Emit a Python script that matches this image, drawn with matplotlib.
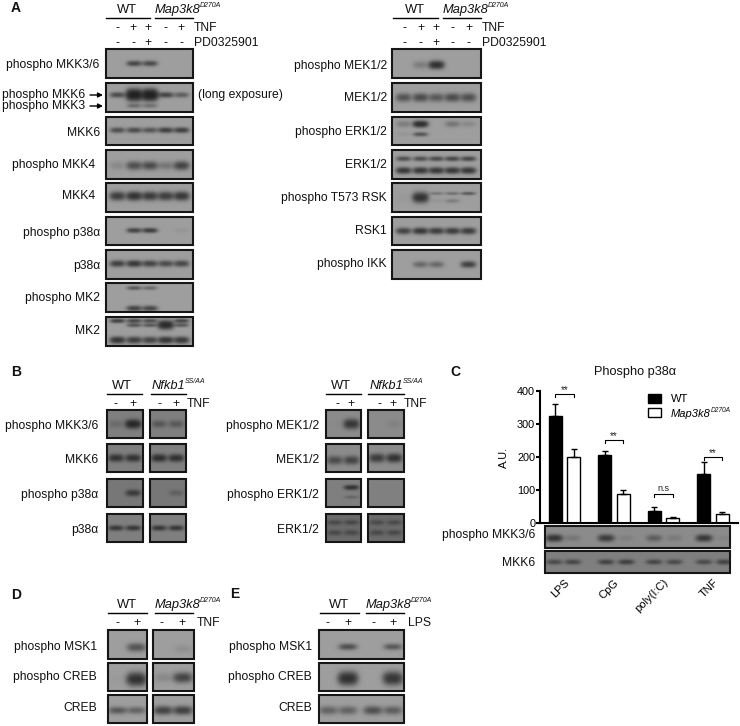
import numpy as np
import matplotlib
matplotlib.use('Agg')
import matplotlib.pyplot as plt
from matplotlib.patches import Rectangle

plt.rcParams['font.family'] = ['Liberation Sans', 'DejaVu Sans']

# bar chart values (panel C)
stimuli = ['LPS', 'CpG', 'poly(I:C)', 'TNF']
wt_values = [325, 205, 37, 148]
wt_errors = [37, 13, 10, 38]
ko_values = [200, 87, 15, 28]
ko_errors = [23, 13, 3, 5]
bracket_levels = [390, 251, 88, 200]
bracket_marks = ['**', '**', 'n.s', '**']

# band intensities per lane, panel A left
a_p_mkk36 = [0, .7, .65, 0, 0]
a_p_mkk6_thin = [.65, 0, 0, .75, .45]
a_p_mkk6_thick = [0, 1.7, 1.7, 0, 0]
a_p_mkk3 = [0, .32, .28, 0, 0]
a_mkk6 = [.6, .65, .55, .8, .8]
a_p_mkk4 = [.12, .6, .65, .25, .75]
a_mkk4 = [.85, 1.05, .9, .85, .95]
a_p_p38 = [0, .75, .85, 0, .05]
a_p38 = [.8, .95, .75, .65, .7]
a_p_mk2_up = [0, .5, .35, 0, 0]
a_p_mk2_low = [0, .75, .7, 0, 0]
a_mk2_up = [.8, .7, .6, 0, .7]
a_mk2_big = [0, 0, 0, 1.3, 0]
a_mk2_mid = [0, .55, .5, 0, .5]
a_mk2_low = [1, .85, .75, 1, .9]

# panel A right
a_p_mek = [0, .2, 1.1, 0, 0]
a_mek = [.55, .65, .5, .65, .6]
a_p_erk_up = [.2, 1.2, 0, .25, .12]
a_p_erk_low = [.05, .55, 0, 0, 0]
a_erk_up = [.6, .6, .65, .7, .7]
a_erk_low = [.95, .95, .95, .95, .95]
a_p_rsk = [.03, 1.1, 0, 0, 0]
a_p_rsk_up = [0, 0, .25, .3, .5]
a_p_rsk_low = [0, 0, .05, .2, 0]
a_rsk1 = [.75, .95, .85, .85, .85]
a_p_ikk = [0, .35, .35, 0, .8]

# panel B, wild type and mutant pairs
b_p_mkk36 = [[.15, 1.2], [.35, .35]]
b_mkk6 = [[.9, .9], [1, .95]]
b_p_p38 = [[0, .7], [0, .2]]
b_p38 = [[.8, .8], [.8, .8]]
b_p_mek = [[.02, .9], [0, .07]]
b_mek_wt = [.55, .65]
b_mek_ss = [.8, .95]
b_p_erk_up = [0, .9]
b_p_erk_low = [0, .2]
b_erk_up = [[.35, .4], [.35, .35]]
b_erk_low = [[.35, .35], [.35, .35]]

# panels D and E
d_p_msk1 = [[0, .55], [0, .08]]
d_p_creb_wt = [.02, 1.1]
d_p_creb_ko = [.12, .75]
d_creb_wt = [.5, .4]
d_creb_ko = [.75, .8]
e_p_msk1 = [0, .6, 0, .5]
e_p_creb = [0, 1.15, 0, 1.0]
e_creb = [.4, .4, .6, .45]

# panel C blots
c_p_mkk36 = [.95, .15, .8, .08, .35, .12, .85, .05]
c_mkk6 = [.5, .55, .6, .65, .55, .5, .5, .6]

LANES_5 = [.13, .32, .5, .68, .86]
LANES_2 = [.25, .73]
LANES_E = [.11, .34, .635, .87]
LANES_C = [.05, .15, .33, .44, .59, .70, .86, .97]

A_ROWS = [(49, 78), (83, 112), (117, 145), (150, 179), (183, 212),
          (217, 245), (250, 279), (283, 312), (317, 346)]
B_ROWS = [(410, 438), (444, 472), (479, 507), (514, 542)]
DE_ROWS = [(630, 659), (663, 691), (695, 723)]

fig = plt.figure(figsize=(7.4, 7.26), dpi=100)
page = fig.add_axes([0, 0, 1, 1], zorder=1)
page.patch.set_alpha(0)


def draw_blot(x0, x1, row, lanes, bands, bg=.62, band_w=6.5):
    """bands: list of (y fraction, sigma in px, intensities)"""
    y0, y1 = row
    ny, nx = int((y1 - y0) * 3), int((x1 - x0) * 3)
    xx, yy = np.meshgrid(np.linspace(0, x1 - x0, nx), np.linspace(0, y1 - y0, ny))
    dark = np.zeros_like(xx)
    for yfrac, sigma, values in bands:
        for lane, val in zip(lanes, values):
            dx = np.abs(xx - lane * (x1 - x0))
            dy = yy - yfrac * (y1 - y0)
            wide = band_w + sigma * .3
            dark += val * np.exp(-.5 * (dy / sigma) ** 2) * np.exp(-(dx / wide) ** 3)
    img = bg - (bg - .08) * (1 - np.exp(-1.4 * dark))
    page.imshow(img, extent=(x0, x1, y1, y0), cmap='gray', vmin=0, vmax=1,
                aspect='auto', interpolation='bilinear')
    page.add_patch(Rectangle((x0, y0), x1 - x0, y1 - y0, fill=False,
                             ec='#161616', lw=1.5))


def label(x, y, s, ha='right', size=8.7, **kw):
    return page.text(x, y, s, ha=ha, va='center', fontsize=size, color='#111111', **kw)


def superscript(parent, s, size=5):
    page.annotate(s, xy=(1, .62), xycoords=parent, xytext=(-.5, 0), textcoords='offset points',
                  fontsize=size, style='italic', va='bottom', ha='left', color='#111111')


def header(name, sup, x, x0, x1, y):
    if sup:
        t = label(x, y - 8, name, ha='left', size=9.3, style='italic')
        superscript(t, sup)
    else:
        label(x, y - 8, name, ha='center', size=9.3)
    page.plot([x0, x1], [y, y], color='black', lw=1)


def signs(xs, marks, y):
    for x, m in zip(xs, marks):
        label(x, y, m, ha='center', size=8.7)


# panel A left
left_blots = [
    ('phospho MKK3/6', 99, 65, [(.5, 1.8, a_p_mkk36)]),
    (None, 0, 0, [(.41, 1.8, a_p_mkk6_thin), (.41, 3.6, a_p_mkk6_thick), (.79, 1.5, a_p_mkk3)]),
    ('MKK6', 100, 133, [(.47, 1.8, a_mkk6)]),
    ('phospho MKK4', 95, 165, [(.54, 2.8, a_p_mkk4)]),
    ('MKK4', 95, 196, [(.45, 2.8, a_mkk4)]),
    ('phospho p38α', 100, 233, [(.48, 1.6, a_p_p38)]),
    ('p38α', 100, 266, [(.47, 2.1, a_p38)]),
    ('phospho MK2', 100, 298, [(.17, 1.3, a_p_mk2_up), (.88, 1.8, a_p_mk2_low)]),
    ('MK2', 100, 331, [(.13, 1.4, a_mk2_up), (.27, 2.8, a_mk2_big),
                       (.28, 1.3, a_mk2_mid), (.8, 2.2, a_mk2_low)]),
]
for row, (text, tx, ty, bands) in zip(A_ROWS, left_blots):
    draw_blot(105.5, 193, row, LANES_5, bands)
    if text:
        label(tx, ty, text)
label(2, 95, 'phospho MKK6', ha='left')
label(2, 106, 'phospho MKK3', ha='left')
label(198, 95, '(long exposure)', ha='left')
for ya in (95, 106):
    page.annotate('', xy=(103, ya), xytext=(90, ya),
                  arrowprops=dict(arrowstyle='-|>', color='black', lw=1, mutation_scale=7,
                                  shrinkA=0, shrinkB=0))

# panel A right
right_blots = [
    ('phospho MEK1/2', 66, [(.55, 2.6, a_p_mek)]),
    ('MEK1/2', 98, [(.5, 2.8, a_mek)]),
    ('phospho ERK1/2', 132, [(.25, 2.1, a_p_erk_up), (.62, 1.4, a_p_erk_low)]),
    ('ERK1/2', 165, [(.3, 1.6, a_erk_up), (.71, 2.1, a_erk_low)]),
    ('phospho T573 RSK', 198, [(.5, 3.3, a_p_rsk), (.36, 1.1, a_p_rsk_up), (.62, 1.4, a_p_rsk_low)]),
    ('RSK1', 231, [(.5, 2.1, a_rsk1)]),
    ('phospho IKK', 264, [(.5, 2.1, a_p_ikk)]),
]
for row, (text, ty, bands) in zip(A_ROWS, right_blots):
    draw_blot(392, 481, row, LANES_5, bands)
    label(387, ty, text)

for off, tx in ((0, 194), (287.5, 482)):
    lane_x = [117 + off, 133 + off, 148 + off, 165 + off, 181 + off]
    header('WT', None, 127 + off, 105.5 + off, 150 + off, 18)
    header('Map3k8', 'D270A', 155 + off, 155 + off, 193 + off, 18)
    signs(lane_x, ['-', '+', '+', '-', '+'], 28)
    signs(lane_x, ['-', '-', '+', '-', '-'], 43)
    label(tx, 28, 'TNF', ha='left')
    label(tx, 43, 'PD0325901', ha='left')

# panel B
b_left = [
    ('phospho MKK3/6', 426, [(.5, 2.8, b_p_mkk36[0])], [(.5, 2.4, b_p_mkk36[1])], .5),
    ('MKK6', 460, [(.5, 2.4, b_mkk6[0])], [(.5, 2.4, b_mkk6[1])], .5),
    ('phospho p38α', 495, [(.5, 2.1, b_p_p38[0])], [(.5, 2.1, b_p_p38[1])], .47),
    ('p38α', 530, [(.5, 1.7, b_p38[0])], [(.5, 1.7, b_p38[1])], .5),
]
b_right = [
    ('phospho MEK1/2', 426, [(.5, 3.2, b_p_mek[0])], [(.5, 3, b_p_mek[1])], .55),
    ('MEK1/2', 460, [(.58, 2.8, b_mek_wt)], [(.5, 2.8, b_mek_ss)], .55),
    ('phospho ERK1/2', 495, [(.3, 1.6, b_p_erk_up), (.65, 1.2, b_p_erk_low)], [], .5),
    ('ERK1/2', 530, [(.3, 1.7, b_erk_up[0]), (.67, 1.9, b_erk_low[0])],
     [(.3, 1.7, b_erk_up[1]), (.67, 1.9, b_erk_low[1])], .42),
]
for row, (text, ty, wt, ss, bg) in zip(B_ROWS, b_left):
    draw_blot(107, 143, row, LANES_2, wt, bg)
    draw_blot(150, 186, row, LANES_2, ss, bg)
    label(98, ty, text)
for row, (text, ty, wt, ss, bg) in zip(B_ROWS, b_right):
    draw_blot(326, 361, row, LANES_2, wt, bg)
    draw_blot(368, 404, row, LANES_2, ss, bg)
    label(319, ty, text)
header('WT', None, 122, 107, 142, 394)
header('Nfkb1', 'SS/AA', 152, 151, 186, 394)
signs([116, 133, 160, 176], ['-', '+', '-', '+'], 404)
label(187, 404, 'TNF', ha='left')
header('WT', None, 341, 326, 361, 394)
header('Nfkb1', 'SS/AA', 370, 368, 404, 394)
signs([337, 351, 379, 393], ['-', '+', '-', '+'], 404)
label(404, 404, 'TNF', ha='left')

# panel D
d_rows = [
    ('phospho MSK1', 647, [(.6, 2.8, d_p_msk1[0])], [(.65, 2.8, d_p_msk1[1])]),
    ('phospho CREB', 677, [(.58, 4.2, d_p_creb_wt)], [(.52, 3.3, d_p_creb_ko)]),
    ('CREB', 708, [(.55, 2.4, d_creb_wt)], [(.55, 2.8, d_creb_ko)]),
]
for row, (text, ty, wt, ko) in zip(DE_ROWS, d_rows):
    draw_blot(108, 147, row, LANES_2, wt, band_w=8)
    draw_blot(153, 194, row, LANES_2, ko, band_w=8)
    label(97, ty, text)
header('WT', None, 127, 108, 147, 613)
header('Map3k8', 'D270A', 155, 155, 193, 613)
signs([117, 137, 162, 182], ['-', '+', '-', '+'], 623)
label(197, 623, 'TNF', ha='left')

# panel E
e_rows = [
    ('phospho MSK1', 647, [(.58, 2.1, e_p_msk1)]),
    ('phospho CREB', 677, [(.55, 4.2, e_p_creb)]),
    ('CREB', 708, [(.55, 2.8, e_creb)]),
]
for row, (text, ty, bands) in zip(DE_ROWS, e_rows):
    draw_blot(319, 404, row, LANES_E, bands, band_w=8)
    label(312, ty, text)
header('WT', None, 339, 320, 359, 613)
header('Map3k8', 'D270A', 366, 366, 404, 613)
signs([328, 348, 373, 393], ['-', '+', '-', '+'], 623)
label(408, 623, 'LPS', ha='left')

# panel C blots
draw_blot(545, 730, (526, 548), LANES_C, [(.55, 2.3, c_p_mkk36)], .55, band_w=7)
draw_blot(545, 730, (551, 573), LANES_C, [(.5, 1.7, c_mkk6)], .5, band_w=7)
label(535, 535, 'phospho MKK3/6')
label(535, 563, 'MKK6')

for x, y, s in ((16, 8, 'A'), (16, 372, 'B'), (455, 372, 'C'), (16, 595, 'D'), (235, 594, 'E')):
    label(x, y, s, ha='center', size=10, fontweight='bold')

page.set_xlim(0, 740)
page.set_ylim(726, 0)
page.axis('off')

# panel C bars
ax = fig.add_axes([540 / 740, 1 - 523 / 726, 198 / 740, 132 / 726], zorder=2)
ax.patch.set_alpha(0)
pos = np.arange(len(stimuli))
wt_bar = ax.bar(pos - .19, wt_values, .26, color='black', edgecolor='black', lw=1, label='WT')
ko_bar = ax.bar(pos + .19, ko_values, .26, color='white', edgecolor='black', lw=1, label='Map3k8')
ax.errorbar(pos - .19, wt_values, yerr=[np.zeros(4), wt_errors], fmt='none', ecolor='black',
            elinewidth=1, capsize=2.5, capthick=1)
ax.errorbar(pos + .19, ko_values, yerr=[np.zeros(4), ko_errors], fmt='none', ecolor='black',
            elinewidth=1, capsize=2.5, capthick=1)
for i, (level, mark) in enumerate(zip(bracket_levels, bracket_marks)):
    ax.plot([i - .19, i - .19, i + .19, i + .19], [level - 8, level, level, level - 8],
            color='black', lw=.8)
    ax.text(i, level + (2 if mark == 'n.s' else -3), mark, ha='center', va='bottom',
            fontsize=7 if mark == '**' else 6.5, color='#222222')

ax.set_xlim(-.495, 3.505)
ax.set_ylim(0, 400)
ax.set_yticks([0, 100, 200, 300, 400])
ax.set_xticks(pos)
ax.set_xticklabels(stimuli, rotation=45, ha='right', rotation_mode='anchor', fontsize=8)
ax.tick_params(axis='x', length=0, pad=39)
ax.tick_params(axis='y', length=3, width=1.5, labelsize=7.8, pad=.5)
ax.spines['top'].set_visible(False)
ax.spines['right'].set_visible(False)
ax.spines['left'].set_linewidth(1.5)
ax.spines['bottom'].set_linewidth(1.5)
ax.set_ylabel('A.U.', fontsize=7.8)
ax.yaxis.set_label_coords((509 - 540) / 198, .5)
fig.text(635 / 740, 1 - 372 / 726, 'Phospho p38α', ha='center', va='center', fontsize=9.2, color='#111111')
leg = ax.legend(handles=[wt_bar, ko_bar], loc='upper left', bbox_to_anchor=(.505, 1.035), frameon=False,
                fontsize=8, handlelength=1.15, handleheight=.85, handletextpad=.95, labelspacing=.35,
                borderpad=0.2)
leg.get_texts()[1].set_style('italic')
fig.text(710.5 / 740, 1 - 414 / 726, 'D270A', fontsize=4.8, style='italic', va='bottom', ha='left',
         color='#111111')

fig.savefig('out.png', dpi=100)
